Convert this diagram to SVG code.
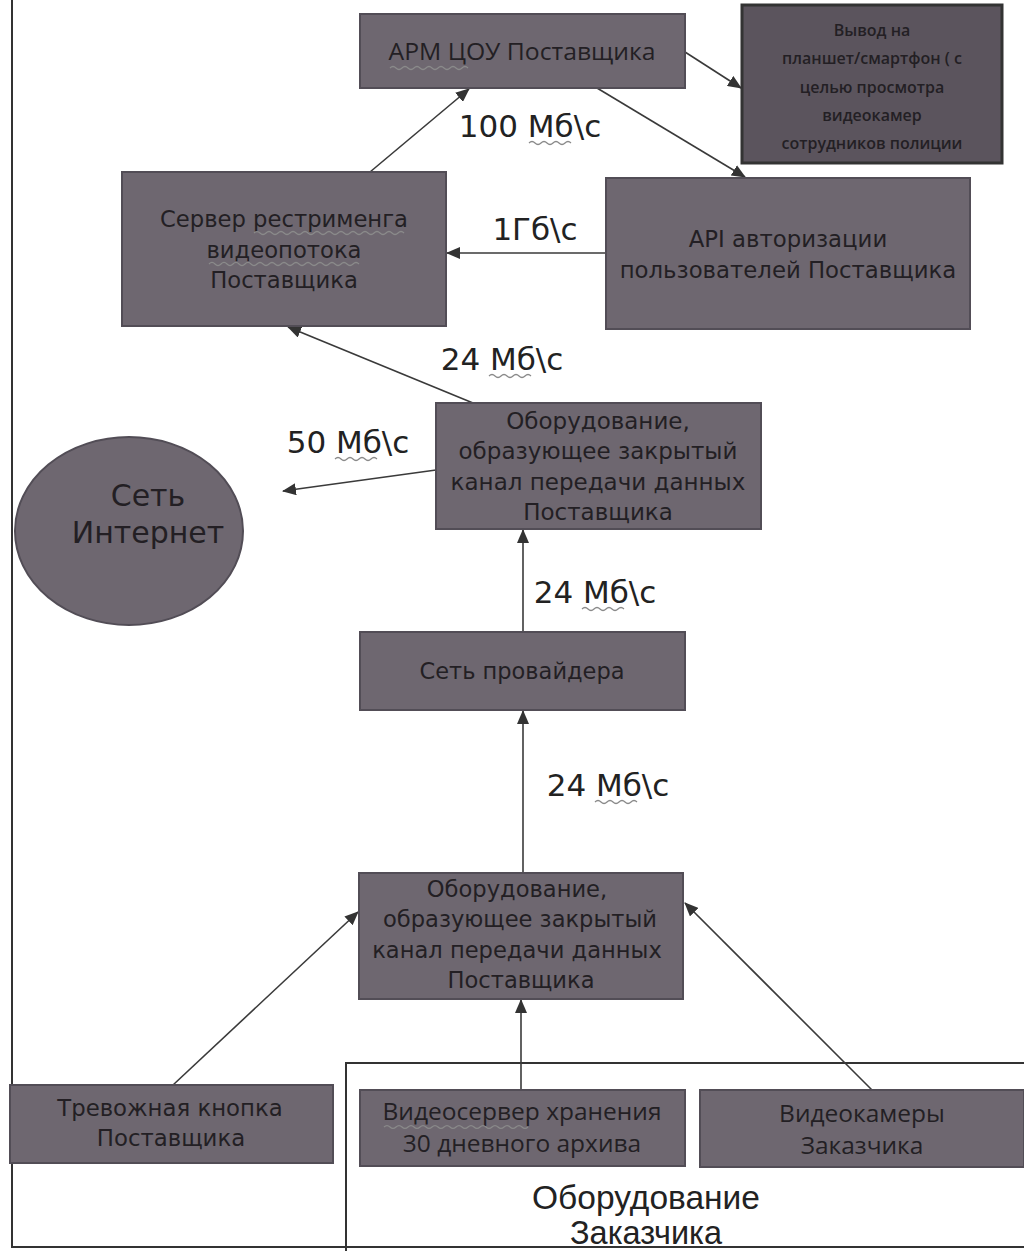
<svg xmlns="http://www.w3.org/2000/svg" width="1024" height="1251" viewBox="0 0 1024 1251">
<defs>
<marker id="ah" markerUnits="userSpaceOnUse" markerWidth="14" markerHeight="12" refX="13" refY="6" orient="auto">
<path d="M0,0 L14,6 L0,12 z" fill="#333"/>
</marker>
<style>
.box{fill:#6e6770;stroke:#524d56;stroke-width:2}
.dbox{fill:#5b545d;stroke:#333;stroke-width:3}
.t{font-family:"DejaVu Sans",sans-serif;fill:#231f24;text-anchor:middle}
.o{font-family:"Open Sans","DejaVu Sans",sans-serif;fill:#231f24;text-anchor:middle}
.lbl{font-family:"DejaVu Sans",sans-serif;fill:#222;text-anchor:middle}
.con{stroke:#3a3a3a;stroke-width:1.6;fill:none;marker-end:url(#ah)}
.frame{stroke:#333;stroke-width:2;fill:none}
.wave{stroke:#8a8a8a;stroke-width:1.2;fill:none}
</style>
</defs>
<rect width="1024" height="1251" fill="#fff"/>
<g id="frames">
<path class="frame" d="M12,0 V1247 H1024"/>
<path class="frame" d="M346,1251 V1063 H1024"/>
</g>
<g id="connectors">
<line class="con" x1="370" y1="172" x2="469" y2="89"/>
<line class="con" x1="685" y1="52" x2="741" y2="88"/>
<line class="con" x1="597" y1="88" x2="745" y2="177"/>
<line class="con" x1="606" y1="253" x2="447" y2="253"/>
<line class="con" x1="473" y1="403" x2="288" y2="327"/>
<line class="con" x1="436" y1="470" x2="283" y2="491"/>
<line class="con" x1="523" y1="632" x2="523" y2="530"/>
<line class="con" x1="523" y1="873" x2="523" y2="711"/>
<line class="con" x1="173" y1="1085" x2="358" y2="912"/>
<line class="con" x1="521" y1="1090" x2="521" y2="1000"/>
<line class="con" x1="872" y1="1090" x2="685" y2="903"/>
</g>
<g id="labels" font-size="31">
<text class="lbl" x="530" y="137" font-size="31">100 Мб\с</text>
<text class="lbl" x="535" y="240" font-size="31">1Гб\с</text>
<text class="lbl" x="502" y="370" font-size="31">24 Мб\с</text>
<text class="lbl" x="348" y="453" font-size="31">50 Мб\с</text>
<text class="lbl" x="595" y="603" font-size="31">24 Мб\с</text>
<text class="lbl" x="608" y="796" font-size="31">24 Мб\с</text>
<path class="wave" d="M529,143 q3,-3 6,0 t6,0 t6,0 t6,0 t6,0 t6,0 t6,0"/>
<path class="wave" d="M489,376 q3,-3 6,0 t6,0 t6,0 t6,0 t6,0 t6,0 t6,0"/>
<path class="wave" d="M335,459 q3,-3 6,0 t6,0 t6,0 t6,0 t6,0 t6,0 t6,0"/>
<path class="wave" d="M582,609 q3,-3 6,0 t6,0 t6,0 t6,0 t6,0 t6,0 t6,0"/>
<path class="wave" d="M595,802 q3,-3 6,0 t6,0 t6,0 t6,0 t6,0 t6,0 t6,0"/>
</g>
<g id="n-arm">
<rect class="box" x="360" y="14" width="325" height="74"/>
<text class="o" x="522" y="60" font-size="24" textLength="267" lengthAdjust="spacingAndGlyphs">АРМ ЦОУ Поставщика</text>
<path class="wave" d="M390,68 q3,-3 6,0 t6,0 t6,0 t6,0 t6,0 t6,0 t6,0 t6,0 t6,0 t6,0 t6,0 t6,0 t6,0"/>
</g>
<g id="n-vyvod">
<rect class="dbox" x="742" y="5" width="260" height="158"/>
<text class="o" x="872" y="36" font-size="16" font-weight="600">Вывод на</text>
<text class="o" x="872" y="64" font-size="16" font-weight="600">планшет/смартфон ( с</text>
<text class="o" x="872" y="93" font-size="16" font-weight="600">целью просмотра</text>
<text class="o" x="872" y="121" font-size="16" font-weight="600">видеокамер</text>
<text class="o" x="872" y="149" font-size="16" font-weight="600">сотрудников полиции</text>
</g>
<g id="n-server">
<rect class="box" x="122" y="172" width="324" height="154"/>
<text class="t" x="284" y="227" font-size="22.7">Сервер рестрименга</text>
<text class="t" x="284" y="258" font-size="22.7">видеопотока</text>
<text class="t" x="284" y="288" font-size="22.7">Поставщика</text>
<path class="wave" d="M254,233 q3,-3 6,0 t6,0 t6,0 t6,0 t6,0 t6,0 t6,0 t6,0 t6,0 t6,0 t6,0 t6,0 t6,0 t6,0 t6,0 t6,0 t6,0 t6,0 t6,0 t6,0 t6,0 t6,0 t6,0 t6,0 t6,0"/>
<path class="wave" d="M209,264 q3,-3 6,0 t6,0 t6,0 t6,0 t6,0 t6,0 t6,0 t6,0 t6,0 t6,0 t6,0 t6,0 t6,0 t6,0 t6,0 t6,0 t6,0 t6,0 t6,0 t6,0 t6,0 t6,0 t6,0 t6,0 t6,0"/>
</g>
<g id="n-api">
<rect class="box" x="606" y="178" width="364" height="151"/>
<text class="t" x="788" y="247" font-size="22.8">API авторизации</text>
<text class="t" x="788" y="278" font-size="22.8">пользователей Поставщика</text>
</g>
<g id="n-equip1">
<rect class="box" x="436" y="403" width="325" height="126"/>
<text class="t" x="598" y="429" font-size="23">Оборудование,</text>
<text class="t" x="598" y="459" font-size="23">образующее закрытый</text>
<text class="t" x="598" y="490" font-size="23">канал передачи данных</text>
<text class="t" x="598" y="520" font-size="23">Поставщика</text>
</g>
<g id="n-internet">
<ellipse class="box" cx="129" cy="531" rx="114" ry="94"/>
<text class="t" x="148" y="506" font-size="30">Сеть</text>
<text class="t" x="148" y="543" font-size="30">Интернет</text>
</g>
<g id="n-provider">
<rect class="box" x="360" y="632" width="325" height="78"/>
<text class="t" x="522" y="679" font-size="22.5">Сеть провайдера</text>
</g>
<g id="n-equip2">
<rect class="box" x="359" y="873" width="324" height="126"/>
<text class="t" x="517" y="897" font-size="22.6">Оборудование,</text>
<text class="t" x="520" y="927" font-size="22.6">образующее закрытый</text>
<text class="t" x="517" y="958" font-size="22.6">канал передачи данных</text>
<text class="t" x="521" y="988" font-size="22.6">Поставщика</text>
</g>
<g id="n-alarm">
<rect class="box" x="10" y="1085" width="323" height="78"/>
<text class="t" x="170" y="1116" font-size="22.8">Тревожная кнопка</text>
<text class="t" x="171" y="1146" font-size="22.8">Поставщика</text>
</g>
<g id="n-videoserver">
<rect class="box" x="360" y="1090" width="325" height="76"/>
<text class="o" x="522" y="1120" font-size="24.5">Видеосервер хранения</text>
<text class="o" x="522" y="1152" font-size="24.5">30 дневного архива</text>
<path class="wave" d="M384,1127 q3,-3 6,0 t6,0 t6,0 t6,0 t6,0 t6,0 t6,0 t6,0 t6,0 t6,0 t6,0 t6,0 t6,0 t6,0 t6,0 t6,0 t6,0 t6,0 t6,0 t6,0 t6,0 t6,0 t6,0 t6,0"/>
</g>
<g id="n-cameras">
<rect class="box" x="700" y="1090" width="324" height="77"/>
<text class="o" x="862" y="1122" font-size="24.5">Видеокамеры</text>
<text class="o" x="862" y="1154" font-size="24.5">Заказчика</text>
</g>
<g id="n-customer">
<text x="646" y="1209" font-family="'Liberation Sans',sans-serif" font-size="33" fill="#222" text-anchor="middle" textLength="228" lengthAdjust="spacingAndGlyphs">Оборудование</text>
<text x="646" y="1244" font-family="'Liberation Sans',sans-serif" font-size="33" fill="#222" text-anchor="middle" textLength="152" lengthAdjust="spacingAndGlyphs">Заказчика</text>
</g>
</svg>
